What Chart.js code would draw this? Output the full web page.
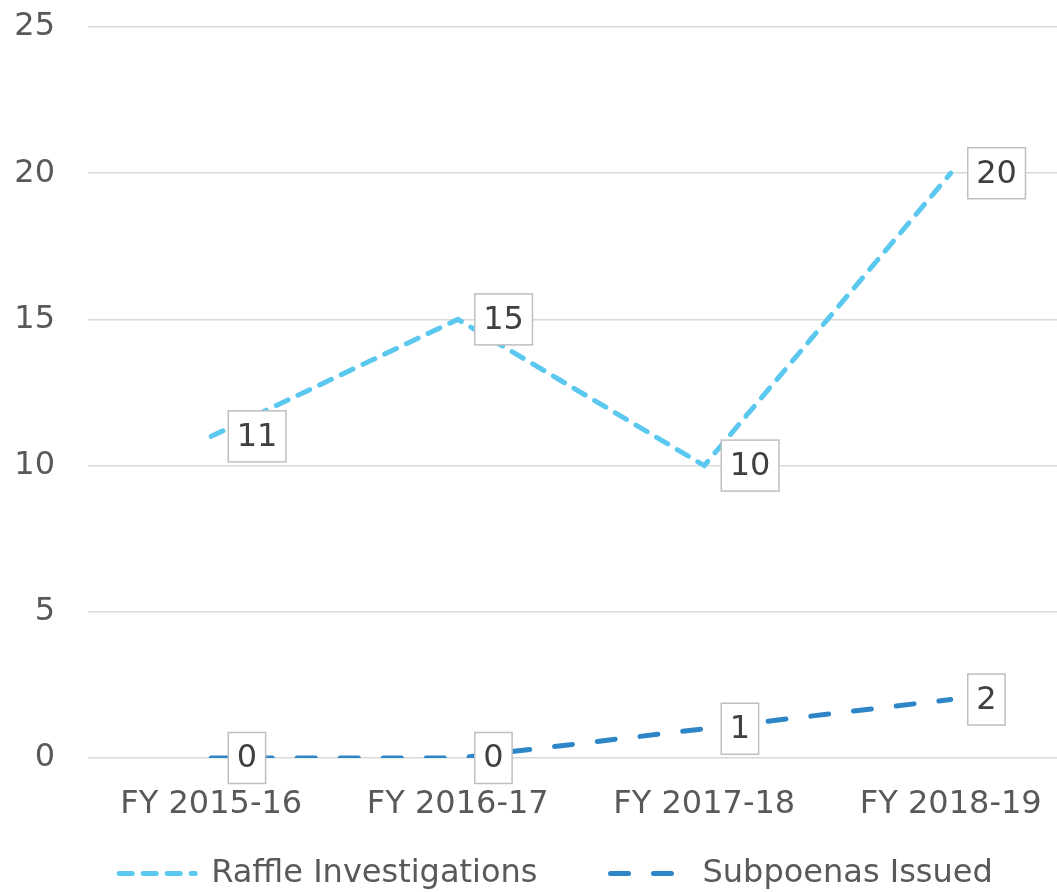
<!DOCTYPE html>
<html>
<head>
<meta charset="utf-8">
<script src="https://cdn.jsdelivr.net/npm/chart.js@4"></script>
<style>
  html, body { margin: 0; padding: 0; overflow: hidden; background: #fff; }
  #wrap { position: absolute; left: 0; top: 0; width: 1112px; height: 892px; }
</style>
</head>
<body>
<div id="wrap"><canvas id="chart"></canvas></div>
<script>
// Chart data
const years = ['FY 2015-16', 'FY 2016-17', 'FY 2017-18', 'FY 2018-19'];
const raffleInvestigations = [11, 15, 10, 20];
const subpoenasIssued = [0, 0, 1, 2];
const yTicks = [0, 5, 10, 15, 20, 25];

const fontFamily = "'DejaVu Sans', sans-serif";
const textGray = '#595959';
const legendGap = 73;   // horizontal space between legend items
const legendLift = 58;  // pull the legend row up towards the axis labels

// Draws the boxed value labels to the right of each point
const valueBoxes = {
    id: 'valueBoxes',
    afterDatasetsDraw(chart) {
        const ctx = chart.ctx;
        ctx.save();
        ctx.font = '32px ' + fontFamily;
        ctx.textBaseline = 'middle';
        ctx.textAlign = 'left';
        chart.data.datasets.forEach((ds, i) => {
            const meta = chart.getDatasetMeta(i);
            meta.data.forEach((pt, j) => {
                const text = String(ds.data[j]);
                const w = ctx.measureText(text).width;
                const bx = pt.x + 17;
                const bw = w + 17;
                const bh = 51;
                const by = pt.y - bh / 2;
                ctx.fillStyle = '#ffffff';
                ctx.fillRect(bx, by, bw, bh);
                ctx.strokeStyle = '#bfbfbf';
                ctx.lineWidth = 1.5;
                ctx.strokeRect(bx, by, bw, bh);
                ctx.fillStyle = '#404040';
                ctx.fillText(text, bx + 8.5, pt.y + 1);
            });
        });
        ctx.restore();
    }
};

// The legend padding is only wanted horizontally: it should not take
// vertical room in the layout, so trim it there and lift the row afterwards
const trimLegend = {
    id: 'trimLegend',
    beforeLayout(chart) {
        const lg = chart.legend;
        if (!lg || lg._trimmed) return;
        const fit = lg.fit;
        lg.fit = function () {
            fit.call(this);
            this.height -= legendGap;
        };
        lg._trimmed = true;
    },
    afterLayout(chart) {
        const lg = chart.legend;
        if (!lg) return;
        const full = lg.height + legendGap;
        lg.top -= legendLift;
        lg.height = full;
        lg.bottom = lg.top + full;
    }
};

const ctx = document.getElementById('chart').getContext('2d');
new Chart(ctx, {
    type: 'line',
    data: {
        labels: years,
        datasets: [{
            label: 'Raffle Investigations',
            data: raffleInvestigations,
            borderColor: '#5bc8ef',
            backgroundColor: '#5bc8ef',
            borderWidth: 5,
            borderDash: [13, 11],
            borderCapStyle: 'round',
            pointRadius: 0,
            tension: 0
        }, {
            label: 'Subpoenas Issued',
            data: subpoenasIssued,
            borderColor: '#2e86c8',
            backgroundColor: '#2e86c8',
            borderWidth: 5,
            borderDash: [18, 25],
            borderCapStyle: 'round',
            pointRadius: 0,
            tension: 0
        }]
    },
    options: {
        responsive: true,
        maintainAspectRatio: false,
        animation: false,
        layout: { padding: { top: 27, bottom: 7.6 } },
        scales: {
            x: {
                offset: true,
                grid: { display: false },
                border: { display: false },
                ticks: { color: textGray, font: { family: fontFamily, size: 32 }, padding: 19, maxRotation: 0 }
            },
            y: {
                min: 0,
                max: 25,
                afterBuildTicks: (scale) => { scale.ticks = yTicks.map(v => ({ value: v })); },
                afterFit: (scale) => {
                    scale.width = 88;
                    scale.paddingTop = 10;
                    scale.paddingBottom = 10;
                },
                grid: { color: '#d9d9d9', lineWidth: 1.5, drawTicks: false },
                border: { display: false },
                ticks: { color: textGray, font: { family: fontFamily, size: 32 }, padding: 33 }
            },
            y2: {
                position: 'right',
                display: true,
                afterFit: (scale) => { scale.width = 38; },
                grid: { display: false },
                border: { display: false },
                ticks: { display: false }
            }
        },
        plugins: {
            legend: {
                position: 'bottom',
                labels: {
                    usePointStyle: true,
                    pointStyle: 'line',
                    pointStyleWidth: 76,
                    color: textGray,
                    font: { family: fontFamily, size: 32 },
                    padding: legendGap,
                    generateLabels: (chart) => chart.data.datasets.map((ds, i) => ({
                        text: ds.label,
                        datasetIndex: i,
                        strokeStyle: ds.borderColor,
                        fillStyle: ds.borderColor,
                        lineWidth: ds.borderWidth,
                        lineDash: ds.borderDash,
                        lineCap: 'round',
                        pointStyle: 'line',
                        fontColor: textGray,
                        hidden: false
                    }))
                }
            },
            tooltip: { enabled: false }
        }
    },
    plugins: [valueBoxes, trimLegend]
});
</script>
</body>
</html>
